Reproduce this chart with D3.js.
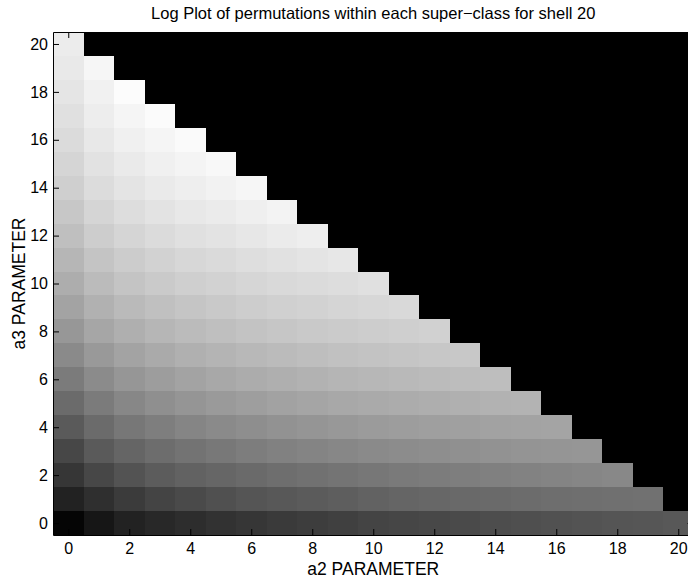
<!DOCTYPE html>
<html>
<meta charset="utf-8">
<style>
body { margin: 0; background: #fff; }
text { font-family: "Liberation Sans", Arial, sans-serif; }
</style>
<body>
<script src="https://d3js.org/d3.v7.min.js"></script>
<script>

// a2 / a3 parameter values (one cell per value)
var a2Values = [0,1,2,3,4,5,6,7,8,9,10,11,12,13,14,15,16,17,18,19,20];
var a3Values = [0,1,2,3,4,5,6,7,8,9,10,11,12,13,14,15,16,17,18,19,20];

// tick labels
var a2Ticks = [0,2,4,6,8,10,12,14,16,18,20];
var a3Ticks = [0,2,4,6,8,10,12,14,16,18,20];

// log(permutations) read off the grey colormap (0 = black, 255 = white)
// one row per a3 value, entries for a2 = 0 .. 20 - a3
var row0  = [5,22,34,40,45,50,54,58,61,64,68,70,72,74,77,79,81,83,85,86,88];
var row1  = [34,47,59,68,74,80,85,88,91,94,98,101,103,105,106,108,110,111,112,113];
var row2  = [54,71,83,92,98,102,106,110,113,116,119,122,124,126,128,130,132,134,136];
var row3  = [71,90,101,109,115,120,125,129,132,135,138,140,142,144,146,148,149,150];
var row4  = [90,107,119,126,133,138,142,146,149,152,155,157,159,160,162,163,164];
var row5  = [107,123,135,143,149,154,158,162,165,168,170,172,174,176,178,179];
var row6  = [123,139,150,157,163,168,172,175,178,181,183,185,187,189,190];
var row7  = [138,153,163,170,176,180,184,187,190,193,195,197,199,200];
var row8  = [151,166,175,182,187,191,195,198,201,203,205,207,209];
var row9  = [163,177,186,192,197,201,205,208,210,213,215,217];
var row10 = [173,187,196,202,207,210,214,217,219,221,224];
var row11 = [182,196,204,210,215,218,222,225,228,231];
var row12 = [191,205,213,219,224,227,231,235,238];
var row13 = [199,213,221,227,232,235,239,243];
var row14 = [207,220,228,234,238,242,246];
var row15 = [213,226,234,240,244,248];
var row16 = [219,232,240,245,250];
var row17 = [224,237,245,251];
var row18 = [229,241,252];
var row19 = [233,246];
var row20 = [236];

var rows = [row0,row1,row2,row3,row4,row5,row6,row7,row8,row9,row10,
            row11,row12,row13,row14,row15,row16,row17,row18,row19,row20];

// plot box (the right side runs past the window like the original)
var boxLeft = 53, boxTop = 32, cellW = 30.5, boxBottom = 535;
var boxRight = boxLeft + cellW * a2Values.length;

// set the ranges
var x = d3.scaleLinear().domain([-0.5, 20.5]).range([boxLeft, boxRight]);
var y = d3.scaleLinear().domain([-0.5, 20.5]).range([boxBottom, boxTop]);
var grey = d3.scaleLinear().domain([0, 255]).range(["#000000", "#ffffff"]);

var svg = d3.select("body").append("svg")
    .attr("width", 688)
    .attr("height", 581)
    .style("display", "block");

// build the cells; outside the triangle the value is the colormap minimum
var cells = [];
a3Values.forEach(function(a3) {
  a2Values.forEach(function(a2) {
    var v = rows[a3][a2];
    cells.push({a2: a2, a3: a3, v: v === undefined ? 0 : v});
  });
});

svg.append("g").selectAll("rect")
    .data(cells)
  .enter().append("rect")
    .attr("x", function(d) { return Math.round(x(d.a2 - 0.5)); })
    .attr("width", function(d) { return Math.round(x(d.a2 + 0.5)) - Math.round(x(d.a2 - 0.5)); })
    .attr("y", function(d) { return Math.round(y(d.a3 + 0.5)); })
    .attr("height", function(d) { return Math.round(y(d.a3 - 0.5)) - Math.round(y(d.a3 + 0.5)); })
    .attr("fill", function(d) { return grey(d.v); })
    .attr("shape-rendering", "crispEdges");

// axes, ticks pointing inwards
function styleAxis(g) {
  g.style("color", "#000")
   .attr("font-size", 16)
   .attr("font-family", "'Liberation Sans', Arial, sans-serif");
}

svg.append("g")
    .attr("transform", "translate(0," + boxBottom + ")")
    .call(d3.axisBottom(x).tickValues(a2Ticks).tickSizeInner(-6).tickSizeOuter(0).tickPadding(8))
    .call(styleAxis);

svg.append("g")
    .attr("transform", "translate(0," + boxTop + ")")
    .call(d3.axisTop(x).tickValues(a2Ticks).tickSizeInner(-6).tickSizeOuter(0).tickFormat(""))
    .call(styleAxis);

svg.append("g")
    .attr("transform", "translate(" + boxLeft + ",0)")
    .call(d3.axisLeft(y).tickValues(a3Ticks).tickSizeInner(-6).tickSizeOuter(0).tickPadding(5))
    .call(styleAxis);

svg.append("g")
    .attr("transform", "translate(" + boxRight + ",0)")
    .call(d3.axisRight(y).tickValues(a3Ticks).tickSizeInner(-6).tickSizeOuter(0).tickFormat(""))
    .call(styleAxis);

// title and axis labels
svg.append("text")
    .attr("x", (boxLeft + boxRight) / 2)
    .attr("y", 19)
    .attr("text-anchor", "middle")
    .attr("font-size", 16.5)
    .text("Log Plot of permutations within each super\u2212class for shell 20");

svg.append("text")
    .attr("x", (boxLeft + boxRight) / 2)
    .attr("y", 575)
    .attr("text-anchor", "middle")
    .attr("font-size", 17.5)
    .text("a2 PARAMETER");

svg.append("text")
    .attr("transform", "translate(25," + (boxTop + boxBottom) / 2 + ") rotate(-90)")
    .attr("text-anchor", "middle")
    .attr("font-size", 17.5)
    .text("a3 PARAMETER");

</script>
</body>
</html>
